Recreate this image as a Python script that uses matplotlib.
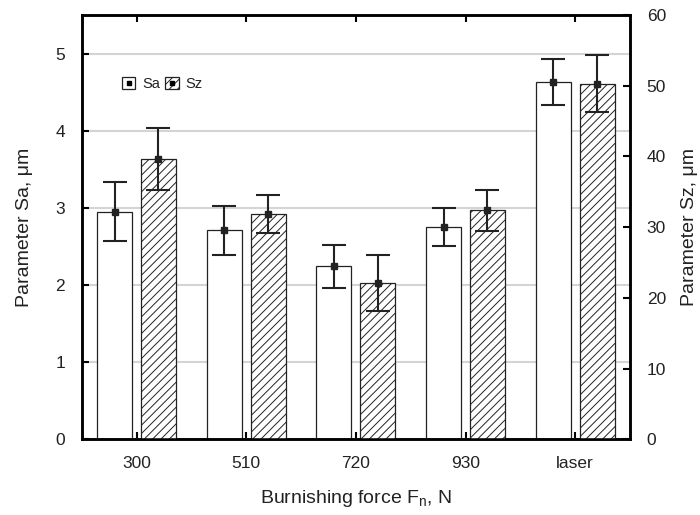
import matplotlib
matplotlib.use("Agg")
import matplotlib.pyplot as plt
import numpy as np
from matplotlib.patches import Rectangle
from matplotlib.lines import Line2D
from matplotlib.legend_handler import HandlerTuple

categories = ['300', '510', '720', '930', 'laser']
sa = [2.95, 2.71, 2.24, 2.75, 4.63]
sa_err = [0.38, 0.32, 0.28, 0.25, 0.30]
sz = [39.6, 31.8, 22.1, 32.4, 50.3]
sz_err = [4.4, 2.7, 3.95, 2.9, 4.05]
sa_ticks = [0, 1, 2, 3, 4, 5]
sz_ticks = [0, 10, 20, 30, 40, 50, 60]

plt.rcParams['font.family'] = ['Liberation Sans', 'DejaVu Sans']
plt.rcParams['hatch.linewidth'] = 0.7
plt.rcParams['hatch.color'] = '#444444'

fig = plt.figure(figsize=(7.0, 5.15), dpi=100)
ax1 = fig.add_axes([0.1167, 0.147, 0.9 - 0.1167, 0.971 - 0.147])
ax2 = ax1.twinx()

x = np.arange(len(categories))
w = 0.318
off = 0.2

ax1.set_axisbelow(True)
ax1.yaxis.grid(True, color='#d4d4d4', linewidth=1.5)
ax1.bar(x - off, sa, width=w, color='white', edgecolor='#222222', linewidth=0.9, zorder=2)
ax1.errorbar(x - off, sa, yerr=sa_err, fmt='s', color='#222222', markersize=5,
             elinewidth=1.5, capsize=8.5, capthick=1.5, zorder=3)

ax2.bar(x + off, sz, width=w, color='white', edgecolor='#222222', linewidth=0.9,
        hatch='////', zorder=2)
ax2.errorbar(x + off, sz, yerr=sz_err, fmt='s', color='#222222', markersize=5,
             elinewidth=1.5, capsize=8.5, capthick=1.5, zorder=3)

ax1.set_xlim(-0.5, 4.5)
ax1.set_ylim(0, 5.5)
ax2.set_ylim(0, 60)
ax1.set_xticks(x)
ax1.set_xticklabels(categories)
ax1.set_yticks(sa_ticks)
ax2.set_yticks(sz_ticks)

for ax in (ax1, ax2):
    for s in ax.spines.values():
        s.set_linewidth(1.8)
        s.set_color('black')
ax1.tick_params(axis='both', direction='in', length=5, width=1.5, labelsize=12.5,
                top=True, colors='black', labelcolor='#222222')
ax1.tick_params(axis='y', pad=12)
ax1.tick_params(axis='x', pad=12)
ax2.tick_params(axis='y', direction='in', length=5, width=1.5, labelsize=12.5, pad=12,
                labelcolor='#222222')

ax1.set_xlabel('Burnishing force F$_\\mathregular{n}$, N', fontsize=14, color='#222222')
ax1.xaxis.set_label_coords(0.5, -0.115)
ax1.set_ylabel('Parameter Sa, μm', fontsize=14, color='#222222')
ax1.yaxis.set_label_coords(-0.089, 0.5)
ax2.set_ylabel('Parameter Sz, μm', fontsize=14, color='#222222')
ax2.yaxis.set_label_coords(1.093, 0.5)

h_sa = (Rectangle((0, 0), 1, 1, facecolor='white', edgecolor='#222222', linewidth=0.9),
        Line2D([], [], marker='s', color='black', linestyle='none', markersize=2.5))
h_sz = (Rectangle((0, 0), 1, 1, facecolor='white', edgecolor='#222222', linewidth=0.9, hatch='////'),
        Line2D([], [], marker='s', color='black', linestyle='none', markersize=2.5))
leg = ax2.legend([h_sa, h_sz], ['Sa', 'Sz'], handler_map={tuple: HandlerTuple(ndivide=1, pad=0)},
                 ncol=2, loc='upper left', bbox_to_anchor=(0.0735, 0.853), frameon=False,
                 fontsize=10.5, handlelength=0.9, handleheight=0.9, handletextpad=0.5,
                 columnspacing=0.35, borderaxespad=0, borderpad=0)
for t in leg.get_texts():
    t.set_color('#222222')

fig.savefig('out.png', dpi=100)
